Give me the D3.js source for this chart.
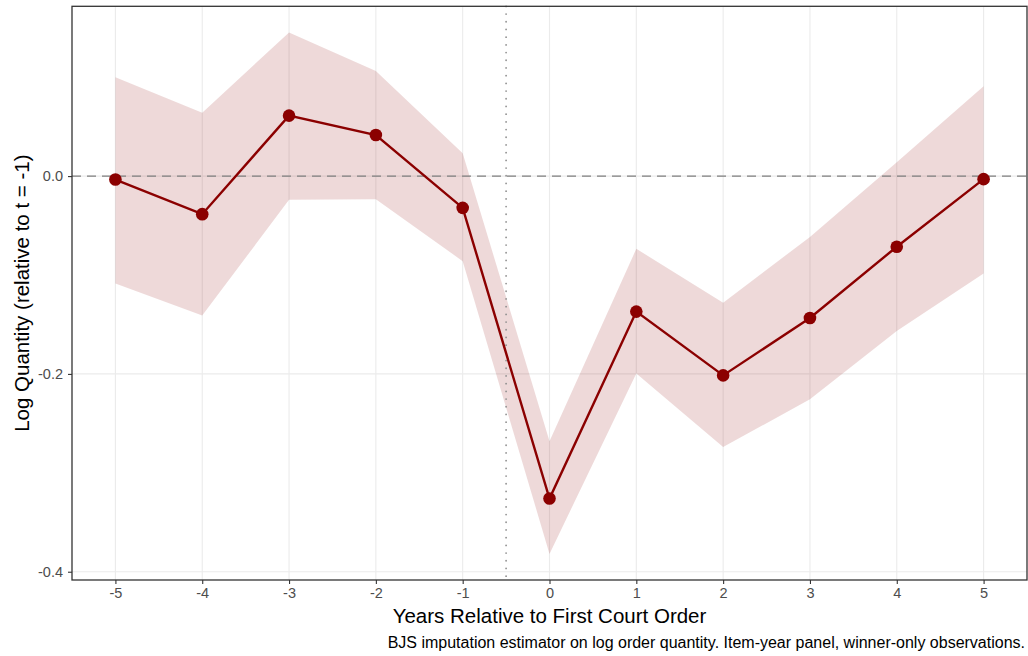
<!DOCTYPE html>
<html><head><meta charset="utf-8">
<script src="https://cdn.jsdelivr.net/npm/d3@7"></script>
<style>body{margin:0;background:#fff;} svg{display:block;} text{font-family:"Liberation Sans",Arial,sans-serif;}</style>
</head><body><svg id="c" width="1028" height="656"></svg>
<script>
const years = [-5,-4,-3,-2,-1,0,1,2,3,4,5];
const estimate = [-0.0035,-0.0385,0.0611,0.0415,-0.0321,-0.326,-0.137,-0.2015,-0.1435,-0.0714,-0.0031];
const upper = [0.0999,0.064,0.1453,0.1063,0.0232,-0.268,-0.0735,-0.128,-0.0615,0.014,0.0908];
const lower = [-0.1085,-0.141,-0.024,-0.0234,-0.086,-0.382,-0.1995,-0.274,-0.2255,-0.1565,-0.0984];
const yTicks = [0.0,-0.2,-0.4];
const xTicks = years;
const xTitle = "Years Relative to First Court Order";
const yTitle = "Log Quantity (relative to t = -1)";
const caption = "BJS imputation estimator on log order quantity. Item-year panel, winner-only observations.";

const data = years.map((t,i)=>({t, est:estimate[i], lo:lower[i], hi:upper[i]}));
const svg = d3.select("#c");
const L=72, R=1027, T=6.3, B=580;
const x = d3.scaleLinear().domain([-5.5,5.5]).range([L,R]);
const yMin = d3.min(lower), yMax = d3.max(upper), pad=(yMax-yMin)*0.05;
const y = d3.scaleLinear().domain([yMin-pad, yMax+pad]).range([B,T]);
const hy = s => s.replace(/\u2212/g,"-");

const g = svg.append("g");
g.selectAll(".gx").data(xTicks).join("line").attr("x1",d=>x(d)).attr("x2",d=>x(d)).attr("y1",T).attr("y2",B).attr("stroke","#ebebeb").attr("stroke-width",1.1);
g.selectAll(".gy").data(yTicks).join("line").attr("y1",d=>y(d)).attr("y2",d=>y(d)).attr("x1",L).attr("x2",R).attr("stroke","#ebebeb").attr("stroke-width",1.1);
g.append("path").datum(data).attr("d",d3.area().x(d=>x(d.t)).y0(d=>y(d.lo)).y1(d=>y(d.hi))).attr("fill","#8b0000").attr("fill-opacity",0.15);
g.append("line").attr("x1",L).attr("x2",R).attr("y1",y(0)).attr("y2",y(0)).attr("stroke","#7f7f7f").attr("stroke-width",1.1).attr("stroke-dasharray","9,6");
g.append("line").attr("x1",x(-0.5)).attr("x2",x(-0.5)).attr("y1",T).attr("y2",B).attr("stroke","#8c8c8c").attr("stroke-width",1.7).attr("stroke-dasharray","0.1,7.6").attr("stroke-linecap","round");
g.append("path").datum(data).attr("d",d3.line().x(d=>x(d.t)).y(d=>y(d.est))).attr("fill","none").attr("stroke","#8b0000").attr("stroke-width",2.4);
g.selectAll(".pt").data(data).join("circle").attr("cx",d=>x(d.t)).attr("cy",d=>y(d.est)).attr("r",6.3).attr("fill","#8b0000");
g.append("rect").attr("x",L).attr("y",T).attr("width",R-L).attr("height",B-T).attr("fill","none").attr("stroke","#333").attr("stroke-width",1.3);
const xa = svg.append("g").attr("transform",`translate(0,${B})`).call(d3.axisBottom(x).tickValues(xTicks).tickSize(4).tickPadding(4).tickFormat(d=>hy(d3.format("d")(d))));
const ya = svg.append("g").attr("transform",`translate(${L},0)`).call(d3.axisLeft(y).tickValues(yTicks).tickSize(4).tickPadding(5).tickFormat(d=>hy(d3.format(".1f")(d))));
[xa,ya].forEach(a=>{a.select(".domain").remove(); a.selectAll("line").attr("stroke","#333").attr("stroke-width",1.1); a.selectAll("text").attr("fill","#4d4d4d").style("font-size","14.5px").style("font-family","'Liberation Sans',Arial,sans-serif");});
svg.append("text").attr("x",(L+R)/2).attr("y",623.3).attr("text-anchor","middle").style("font-size","20.5px").attr("fill","#000").text(xTitle);
svg.append("text").attr("transform",`translate(28.5,${(T+B)/2}) rotate(-90)`).attr("text-anchor","middle").style("font-size","20.5px").attr("fill","#000").text(yTitle);
svg.append("text").attr("x",1025).attr("y",648).attr("text-anchor","end").style("font-size","16px").attr("fill","#000").text(caption);
</script></body></html>
